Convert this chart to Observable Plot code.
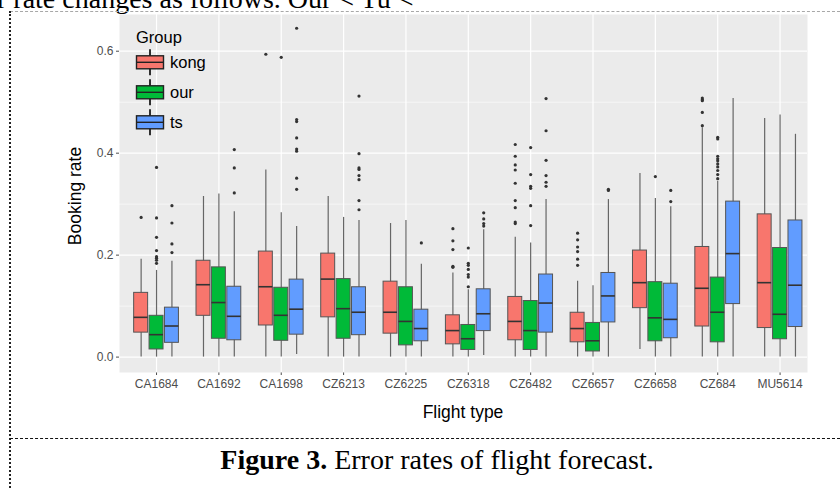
<!DOCTYPE html>
<html>
<head>
<meta charset="utf-8">
<script src="https://cdn.jsdelivr.net/npm/d3@7"></script>
<script src="https://cdn.jsdelivr.net/npm/@observablehq/plot@0.6"></script>
<style>
  html, body { margin: 0; padding: 0; background: #fff; }
  body { width: 840px; height: 489px; position: relative; overflow: hidden; }
  .serif { font-family: "Liberation Serif", "Times New Roman", serif; color: #000; }
  .sans { font-family: "Liberation Sans", Arial, sans-serif; color: #000; }
  #chart { position: absolute; left: 0; top: 0; }
</style>
</head>
<body>
<div class="serif" style="position:absolute;left:-3px;top:-15px;font-size:28px;line-height:28px;white-space:nowrap;">r rate changes as follows. Our &lt; Tu &lt;</div>
<div style="position:absolute;left:10px;top:11px;width:830px;border-top:1px dashed #a8a8a8;"></div>
<div style="position:absolute;left:9px;top:11px;height:480px;border-left:2px dotted #222;"></div>
<div style="position:absolute;left:10px;top:438px;width:830px;border-top:1px dashed #111;"></div>
<div class="serif" style="position:absolute;left:17px;top:446px;width:840px;text-align:center;font-size:28px;line-height:28px;white-space:nowrap;"><b>Figure 3.</b> Error rates of flight forecast.</div>
<div id="chart"></div>
<div class="sans" style="position:absolute;left:363px;top:402px;width:200px;text-align:center;font-size:17.5px;line-height:20px;">Flight type</div>
<div class="sans" style="position:absolute;left:75px;top:196px;transform:translate(-50%,-50%) rotate(-90deg);font-size:17.5px;line-height:20px;white-space:nowrap;">Booking rate</div>
<div id="legend" style="position:absolute;left:130px;top:24px;"></div>
<script>
const flights = ["CA1684","CA1692","CA1698","CZ6213","CZ6225","CZ6318","CZ6482","CZ6657","CZ6658","CZ684","MU5614"];
const groups = ["kong","our","ts"];
const groupColors = ["#F8766D","#00BA38","#619CFF"];
const yTicks = [0, 0.2, 0.4, 0.6];
const yMinor = [0.1, 0.3, 0.5];

// [lower whisker, Q1, median, Q3, upper whisker] per flight
const kong = [
  [0, 0.048, 0.078, 0.126, 0.192],
  [0, 0.081, 0.142, 0.189, 0.315],
  [0, 0.062, 0.138, 0.207, 0.367],
  [0, 0.078, 0.153, 0.203, 0.315],
  [0, 0.046, 0.088, 0.148, 0.262],
  [0, 0.025, 0.052, 0.082, 0.165],
  [0, 0.033, 0.070, 0.118, 0.235],
  [0, 0.029, 0.056, 0.087, 0.149],
  [0.015, 0.096, 0.146, 0.209, 0.360],
  [0, 0.060, 0.135, 0.216, 0.450],
  [0, 0.057, 0.146, 0.280, 0.468]
];
const our = [
  [0, 0.015, 0.044, 0.081, 0.170],
  [0, 0.036, 0.107, 0.176, 0.320],
  [0, 0.032, 0.082, 0.136, 0.283],
  [0, 0.036, 0.095, 0.153, 0.274],
  [0, 0.023, 0.070, 0.137, 0.268],
  [0, 0.014, 0.036, 0.063, 0.132],
  [0, 0.014, 0.052, 0.110, 0.224],
  [0, 0.011, 0.032, 0.067, 0.140],
  [0, 0.031, 0.077, 0.147, 0.311],
  [0, 0.029, 0.088, 0.156, 0.345],
  [0, 0.035, 0.084, 0.214, 0.475]
];
const ts = [
  [0, 0.028, 0.061, 0.097, 0.188],
  [0, 0.033, 0.080, 0.138, 0.285],
  [0.005, 0.044, 0.094, 0.152, 0.256],
  [0, 0.043, 0.088, 0.137, 0.268],
  [0, 0.031, 0.056, 0.093, 0.182],
  [0.003, 0.051, 0.085, 0.133, 0.250],
  [0, 0.048, 0.106, 0.162, 0.309],
  [0, 0.068, 0.120, 0.165, 0.309],
  [0, 0.037, 0.074, 0.144, 0.295],
  [0, 0.104, 0.203, 0.305, 0.507],
  [0, 0.059, 0.141, 0.268, 0.437]
];

// outliers per flight
const kongOut = [
  [0.274], [], [0.594], [], [],
  [0.252, 0.228, 0.211, 0.178, 0.176],
  [0.417, 0.394, 0.377, 0.367, 0.341, 0.307, 0.293, 0.265, 0.262],
  [0.243, 0.230, 0.216, 0.207, 0.192, 0.180],
  [],
  [0.508, 0.505, 0.503, 0.480, 0.454],
  []
];
const ourOut = [
  [0.372, 0.273, 0.235, 0.209, 0.197, 0.194, 0.190, 0.184],
  [], [0.588], [], [],
  [0.214, 0.184, 0.180, 0.172, 0.162, 0.157, 0.138],
  [0.411, 0.358, 0.335, 0.331, 0.297, 0.258],
  [],
  [0.354],
  [0.431, 0.428, 0.394, 0.389, 0.385, 0.379, 0.373, 0.366, 0.358, 0.350],
  []
];
const tsOut = [
  [0.297, 0.263, 0.222, 0.205],
  [0.407, 0.371, 0.322],
  [0.645, 0.466, 0.462, 0.430, 0.408, 0.404, 0.351, 0.329],
  [0.512, 0.399, 0.371, 0.368, 0.356, 0.348, 0.307, 0.289],
  [0.224],
  [0.283, 0.271, 0.262, 0.257],
  [0.507, 0.444, 0.386, 0.356, 0.343, 0.335],
  [0.329, 0.327],
  [0.327, 0.305],
  [], []
];

const statsByGroup = [kong, our, ts];
const outByGroup = [kongOut, ourOut, tsOut];
const dodge = 0.247, half = 0.112;

const boxes = [];
const outliers = [];
groups.forEach((g, j) => {
  flights.forEach((f, i) => {
    const [lo, q1, med, q3, hi] = statsByGroup[j][i];
    const xc = i + (j - 1) * dodge;
    boxes.push({flight: f, group: g, xc, x1: xc - half, x2: xc + half, lo, q1, med, q3, hi});
    outByGroup[j][i].forEach(v => outliers.push({flight: f, group: g, xc, v}));
  });
});

const color = {domain: groups, range: groupColors};

const plot = Plot.plot({
  width: 840,
  height: 430,
  marginLeft: 119,
  marginRight: 33,
  marginTop: 14,
  marginBottom: 58,
  style: {fontFamily: "'Liberation Sans', Arial, sans-serif", fontSize: "12px", color: "#4d4d4d", background: "transparent", overflow: "visible"},
  x: {type: "linear", domain: [-0.594, 10.44], ticks: d3.range(flights.length), tickFormat: i => flights[i], tickSize: 3, tickPadding: 4, label: null},
  y: {domain: [-0.0302, 0.672], ticks: yTicks, tickFormat: d3.format(".1f"), tickSize: 3, tickPadding: 3, label: null},
  color,
  marks: [
    Plot.frame({fill: "#ebebeb", stroke: "none"}),
    Plot.ruleY(yMinor, {stroke: "#fff", strokeWidth: 0.6}),
    Plot.ruleY(yTicks, {stroke: "#fff", strokeWidth: 1.2}),
    Plot.ruleX(d3.range(flights.length), {stroke: "#fff", strokeWidth: 1.2}),
    Plot.ruleX(boxes, {x: "xc", y1: "lo", y2: "hi", stroke: "#666", strokeWidth: 1.2}),
    Plot.rect(boxes, {x1: "x1", x2: "x2", y1: "q1", y2: "q3", fill: "group", stroke: "#555", strokeWidth: 1}),
    Plot.ruleY(boxes, {y: "med", x1: "x1", x2: "x2", stroke: "#333", strokeWidth: 1.6}),
    Plot.dot(outliers, {x: "xc", y: "v", r: 1.6, fill: "#333", stroke: "none"})
  ]
});
document.getElementById("chart").appendChild(plot);

// legend
const leg = d3.select("#legend").append("svg").attr("width", 110).attr("height", 115)
  .style("font-family", "'Liberation Sans', Arial, sans-serif");
leg.append("text").attr("x", 6).attr("y", 19).attr("font-size", 16.5).attr("fill", "#000").text("Group");
groups.forEach((g, j) => {
  const cy = 38.3 + j * 30;
  const row = leg.append("g");
  row.append("line").attr("x1", 20).attr("x2", 20).attr("y1", cy - 13).attr("y2", cy + 13).attr("stroke", "#000").attr("stroke-width", 1.6);
  row.append("rect").attr("x", 6.5).attr("y", cy - 6.5).attr("width", 27).attr("height", 13)
    .attr("fill", groupColors[j]).attr("stroke", "#222").attr("stroke-width", 1.4);
  row.append("line").attr("x1", 6.5).attr("x2", 33.5).attr("y1", cy).attr("y2", cy).attr("stroke", "#222").attr("stroke-width", 1.4);
  row.append("text").attr("x", 40).attr("y", cy + 6).attr("font-size", 16.5).attr("fill", "#000").text(g);
});
</script>
</body>
</html>
